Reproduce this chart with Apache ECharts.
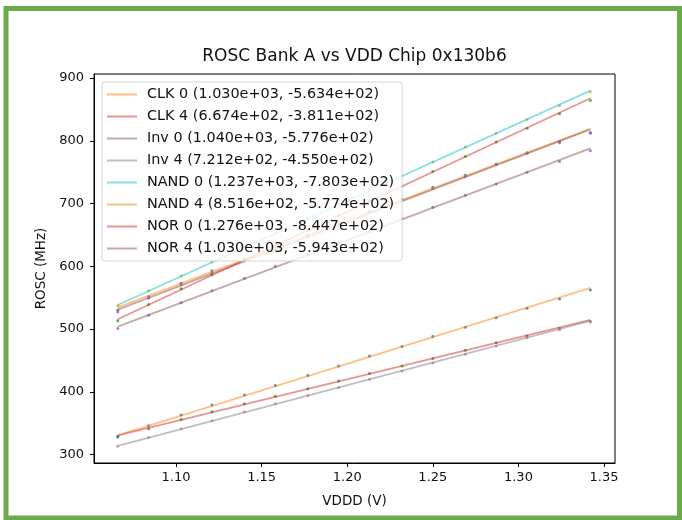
<!DOCTYPE html>
<html>
<head>
<meta charset="utf-8">
<script src="https://cdn.jsdelivr.net/npm/echarts@6/dist/echarts.min.js"></script>
<style>
html,body{margin:0;padding:0;background:#fff;}
#chart{width:682px;height:520px;}
</style>
</head>
<body>
<div id="chart"></div>
<script>
// ---- data ----
const vdd = [1.066,1.084,1.103,1.121,1.140,1.158,1.177,1.195,1.213,1.232,1.250,1.269,1.287,1.305,1.324,1.342];
const seriesNames = ['CLK 0','CLK 4','Inv 0','Inv 4','NAND 0','NAND 4','NOR 0','NOR 4'];
const fitLabels = [
  'CLK 0 (1.030e+03, -5.634e+02)',
  'CLK 4 (6.674e+02, -3.811e+02)',
  'Inv 0 (1.040e+03, -5.776e+02)',
  'Inv 4 (7.212e+02, -4.550e+02)',
  'NAND 0 (1.237e+03, -7.803e+02)',
  'NAND 4 (8.516e+02, -5.774e+02)',
  'NOR 0 (1.276e+03, -8.447e+02)',
  'NOR 4 (1.030e+03, -5.943e+02)'
];
const clk0  = [530,552,573,593,612,631,650,669,688,707,726,745,763,781,799,813];
const clk4  = [328,341,356,368,381,393,405,417,429,441,453,466,478,489,501,512];
const inv0  = [527,549,571,590,610,628,648,667,686,705,724,743,762,780,797,812];
const inv4  = [313,327,341,354,368,381,394,407,420,433,446,460,473,486,499,511];
const nand0 = [537,561,585,607,631,653,676,699,721,744,766,790,812,834,856,878];
const nand4 = [329,346,363,379,395,410,426,441,457,472,488,503,518,533,548,562];
const nor0  = [513,539,564,587,611,634,658,681,704,728,751,775,798,820,843,864];
const nor4  = [501,522,542,561,581,600,619,638,656,676,694,713,731,750,767,784];
const fitStart = [534.6,330.4,531.0,313.8,538.3,330.4,515.5,503.7];
const fitEnd   = [818.9,514.6,818.1,512.9,879.8,565.5,867.7,788.0];
const xTicks = [1.10,1.15,1.20,1.25,1.30,1.35];
const yTicks = [300,400,500,600,700,800,900];

// ---- styles ----
const measured = [clk0,clk4,inv0,inv4,nand0,nand4,nor0,nor4];
const lineColors = ['rgba(255,127,14,0.5)','rgba(214,39,40,0.5)','rgba(140,86,75,0.5)','rgba(127,127,127,0.5)',
                    'rgba(23,190,207,0.5)','rgba(255,127,14,0.5)','rgba(214,39,40,0.5)','rgba(140,86,75,0.5)'];
const dotColors = ['#1f77b4','#2ca02c','#9467bd','#e377c2','#bcbd22','#1f77b4','#2ca02c','#9467bd'];
const FONT = 'DejaVu Sans';

const series = [];
measured.forEach((vals, i) => {
  series.push({
    name: seriesNames[i] + ' data',
    type: 'scatter',
    data: vdd.map((x, k) => [x, vals[k]]),
    symbol: 'circle',
    symbolSize: 3,
    itemStyle: {color: dotColors[i]},
    silent: true
  });
  series.push({
    name: fitLabels[i],
    type: 'line',
    data: [[vdd[0], fitStart[i]], [vdd[vdd.length-1], fitEnd[i]]],
    symbol: 'none',
    lineStyle: {color: lineColors[i], width: 1.8},
    itemStyle: {color: lineColors[i]},
    silent: true
  });
});

const chart = echarts.init(document.getElementById('chart'), null, {renderer: 'canvas'});
chart.setOption({
  animation: false,
  backgroundColor: '#fff',
  textStyle: {fontFamily: FONT},
  grid: {left: 94, right: 67, top: 74, bottom: 57, show: true, borderColor: '#000', borderWidth: 1, backgroundColor: 'transparent'},
  xAxis: {
    type: 'value', min: 1.0521, max: 1.3564,
    axisLine: {show: true, onZero: false, lineStyle: {color: '#000', width: 1}},
    axisTick: {show: true, length: 4, customValues: xTicks, lineStyle: {color: '#000'}},
    axisLabel: {customValues: xTicks, formatter: v => v.toFixed(2), fontSize: 13, color: '#111', margin: 8, fontFamily: FONT},
    splitLine: {show: false},
    name: 'VDDD (V)', nameLocation: 'middle', nameGap: 31,
    nameTextStyle: {fontSize: 13.5, color: '#111', fontFamily: FONT}
  },
  yAxis: {
    type: 'value', min: 286.5, max: 906.4,
    axisLine: {show: true, onZero: false, lineStyle: {color: '#000', width: 1}},
    axisTick: {show: true, length: 4, customValues: yTicks, lineStyle: {color: '#000'}},
    axisLabel: {customValues: yTicks, fontSize: 13, color: '#111', margin: 10, fontFamily: FONT},
    splitLine: {show: false},
    name: 'ROSC (MHz)', nameLocation: 'middle', nameGap: 42, nameRotate: 90,
    nameTextStyle: {fontSize: 13.5, color: '#111', fontFamily: FONT}
  },
  legend: {
    data: fitLabels,
    orient: 'vertical',
    left: 102, top: 82,
    padding: [4, 8, 4, 5],
    icon: 'rect',
    itemWidth: 30, itemHeight: 2, itemGap: 5,
    backgroundColor: 'rgba(255,255,255,0.8)',
    borderColor: '#d4d4d4', borderWidth: 1, borderRadius: 3,
    textStyle: {fontSize: 14.4, color: '#111', fontFamily: FONT, lineHeight: 17, padding: [0, 0, 0, 5]},
    selectedMode: false
  },
  graphic: [
    {type: 'rect', silent: true, z: 100,
     shape: {x: 6, y: 8.5, width: 673.5, height: 509.5},
     style: {fill: 'none', stroke: '#6aab4b', lineWidth: 5}},
    {type: 'text', silent: true, x: 354.5, y: 57,
     style: {text: 'ROSC Bank A vs VDD Chip 0x130b6', fontSize: 17, fontFamily: FONT, fill: '#111',
             textAlign: 'center', textVerticalAlign: 'middle'}}
  ],
  series: series
});
</script>
</body>
</html>
